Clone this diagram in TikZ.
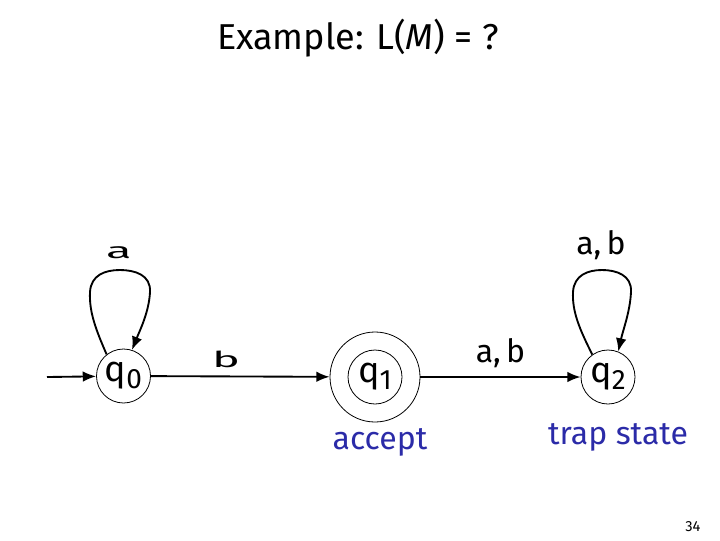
\documentclass[tikz,border=0pt]{standalone}
\usepackage{fontspec}
\setmainfont{Fira Sans}
\usetikzlibrary{arrows.meta}
\definecolor{acc}{HTML}{2B2BA8}
\newcommand{\qlab}[1]{q\raisebox{-0.35ex}{\fontsize{21}{21}\selectfont #1}}
\tikzset{
  state/.style={circle,draw,line width=0.6pt,minimum size=40.5pt,inner sep=0pt,font=\fontsize{27}{27}\selectfont},
  edge/.style={line width=1.4pt,-{Latex[length=10pt,width=8pt]}},
  lab/.style={font=\fontsize{24}{24}\selectfont},
  small/.style={font=\fontsize{22}{22}\selectfont,xscale=1.6,yscale=0.75},
  note/.style={text=acc,font=\fontsize{24}{24}\selectfont}
}
\begin{document}
\begin{tikzpicture}[x=0.75pt,y=-0.75pt]
\useasboundingbox (0,0) rectangle (720,540);
\node[font=\fontsize{27}{27}\selectfont] (title) at (358,38) {Example: L(\textit{M}) = ?};
\node[state] (q0) at (123.5,376) {\qlab{0}};
\node[state,minimum size=67.5pt] (q1o) at (375,377) {};
\node[state] (q1) at (375,377) {\qlab{1}};
\node[state] (q2) at (608,377) {\qlab{2}};
\coordinate (start) at (47,377);
\draw[edge] (start) -- (q0);
\draw[edge] (q0) -- (q1o) node[small,pos=0.42,above=5pt] (lb) {b};
\draw[edge] (q1o) -- (q2) node[lab,midway,above=3pt] (lab1) {a,\,b};
\draw[edge] (q0.128) .. controls (96,330) and (89,312) .. (90,292)
  .. controls (91,275) and (105,270) .. (120,270)
  .. controls (135,270) and (151,275) .. (150,292)
  .. controls (149,312) and (140,330) .. (q0.72);
\node[small] (la) at (119,253) {a};
\draw[edge] (q2.125) .. controls (580,330) and (572,312) .. (573,292)
  .. controls (574,275) and (588,270) .. (602,270)
  .. controls (616,270) and (632,275) .. (631,292)
  .. controls (630,312) and (623,330) .. (q2.68);
\node[lab] (lab2) at (601,245) {a,\,b};
\node[note] (acc) at (380,442) {accept};
\node[note] (trap) at (618,437) {trap state};
\node[font=\fontsize{11}{11}\selectfont] (pg) at (693,527) {34};
\end{tikzpicture}
\end{document}
